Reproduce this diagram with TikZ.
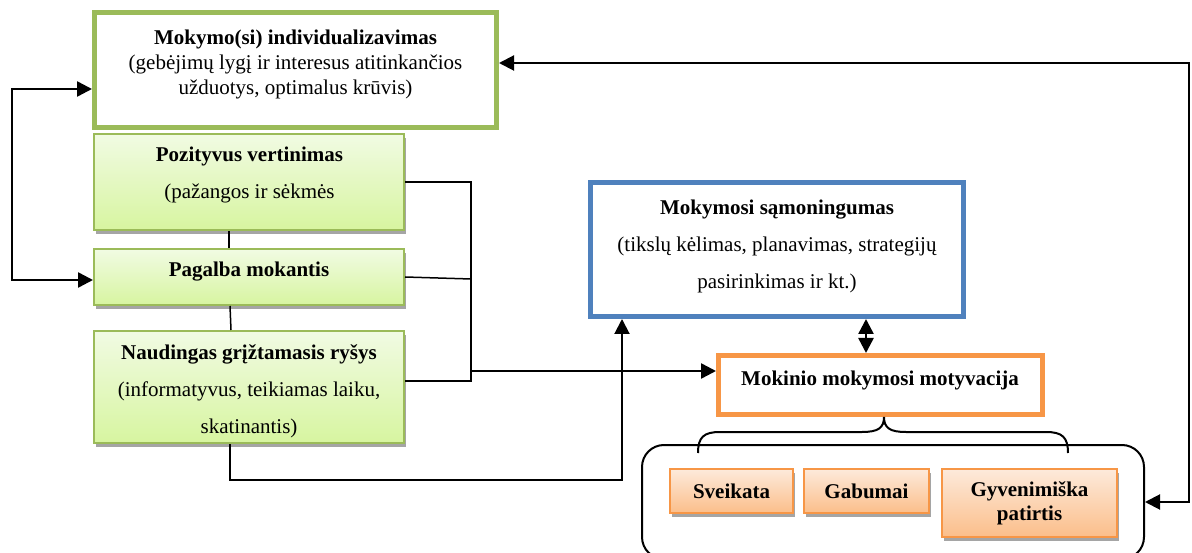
\documentclass[tikz,border=0pt]{standalone}
\usepackage{fontspec}
\setmainfont{Liberation Serif}
\usetikzlibrary{arrows.meta,shadows,calc}
\definecolor{gborder}{HTML}{9BBB59}
\definecolor{bborder}{HTML}{4F81BD}
\definecolor{oborder}{HTML}{F79646}
\definecolor{gtop}{HTML}{F1FBE3}
\definecolor{gbot}{HTML}{D7F5A0}
\definecolor{otop}{HTML}{FDEADB}
\definecolor{obot}{HTML}{FBBE8A}
\definecolor{shadowgray}{HTML}{A5A5A5}
\begin{document}
\begin{tikzpicture}[x=1pt,y=-1pt,
  every node/.style={font=\fontsize{21}{25}\selectfont},
  bigbox/.style={draw, line width=5pt, fill=white, inner sep=0pt},
  gbox/.style={draw=gborder, line width=2pt, top color=gtop, bottom color=gbot, inner sep=0pt,
    drop shadow={shadow xshift=1.5pt, shadow yshift=-4pt, fill=shadowgray, opacity=1}},
  obox/.style={draw=oborder, line width=2pt, top color=otop, bottom color=obot, inner sep=0pt, align=center,
    drop shadow={shadow xshift=1.5pt, shadow yshift=-4pt, fill=shadowgray, opacity=1}},
  txt/.style={align=center, inner sep=0pt},
  wide/.style={font=\fontsize{21}{37}\selectfont},
  ln/.style={line width=1.5pt},
  tip/.style={Triangle[length=15pt,width=15pt]},
  arr/.style={line width=2pt, -{Triangle[length=15pt,width=15pt]}},
  darr/.style={line width=2.5pt, {Triangle[length=15pt,width=15pt]}-{Triangle[length=15pt,width=15pt]}},
]
\useasboundingbox (0,0) rectangle (1192,553);

% top box
\node[bigbox, draw=gborder, minimum width=402pt, minimum height=115pt] (ind) at (295.5,70) {};
\node[txt] (indt) at (295.5,64) {\textbf{Mokymo(si) individualizavimas}\\(gebėjimų lygį ir interesus atitinkančios\\užduotys, optimalus krūvis)};

% green boxes
\node[gbox, minimum width=310pt, minimum height=96pt] (poz) at (249,182) {};
\node[txt, wide] (pozt) at (249.5,175) {\textbf{Pozityvus vertinimas}\\(pažangos ir sėkmės};
\node[gbox, minimum width=310pt, minimum height=56pt] (pag) at (249,277) {};
\node[txt] (pagt) at (249,272) {\textbf{Pagalba mokantis}};
\node[gbox, minimum width=310pt, minimum height=112pt] (nau) at (249,387) {};
\node[txt, wide] (naut) at (249,391) {\textbf{Naudingas grįžtamasis ryšys}\\(informatyvus, teikiamas laiku,\\skatinantis)};

% blue box
\node[bigbox, draw=bborder, minimum width=373pt, minimum height=134pt] (sam) at (777,249.5) {};
\node[txt, wide] (samt) at (777,246) {\textbf{Mokymosi sąmoningumas}\\(tikslų kėlimas, planavimas, strategijų\\pasirinkimas ir kt.)};

% orange box
\node[bigbox, draw=oborder, minimum width=324pt, minimum height=59pt] (mot) at (880.5,385) {};
\node[txt] (mott) at (880,380) {\textbf{Mokinio mokymosi motyvacija}};

% group
\node[draw, line width=2pt, rounded corners=22pt, minimum width=502pt, minimum height=114pt] (grp) at (893,502) {};
\node[obox, minimum width=123pt, minimum height=44pt] (sve) at (731.5,491) {\textbf{Sveikata}};
\node[obox, minimum width=125pt, minimum height=44pt] (gab) at (866.5,491) {\textbf{Gabumai}};
\node[obox, minimum width=175pt, minimum height=68pt, font=\fontsize{21}{24}\selectfont] (gyv) at (1029.5,503) {\textbf{Gyvenimiška}\\\textbf{patirtis}};

% brace
\coordinate (btip) at ([xshift=3.5pt]mot.south);
\draw[line width=2pt] (698,453) .. controls (698,437) and (704,432) .. (720,432) -- (862,432)
  .. controls (878,432) and (884,428) .. (btip)
  .. controls (884,428) and (890,432) .. (906,432) -- (1046,432)
  .. controls (1062,432) and (1068,437) .. (1068,453);

% connectors
\coordinate (jx) at (471,371);
\draw[ln] ([xshift=-20pt]poz.south) -- ([xshift=-20pt]pag.north);
\draw[ln] ([xshift=-19pt]pag.south) -- ([xshift=-18pt]nau.north);
\draw[ln] (poz.east) -| ($(jx)+(0,10)$) -- ([yshift=6pt]nau.east);
\draw[ln] (pag.east) -- (jx |- 0,279);
\draw[arr, line width=2.5pt] (jx) -- ([yshift=14pt]mot.west);
\draw[arr] ([xshift=-19pt]nau.south) -- ++(0,36) -| ([xshift=34pt]sam.south west);
\draw[darr] ([xshift=89pt]sam.south) -- ([xshift=89pt]sam.south |- mot.north);
\draw[darr] ([yshift=-3pt]pag.west) -- ++(-81,0) |- ([yshift=-19pt]ind.west);
\draw[darr, line width=2pt] (grp.east) -- ++(44,0) |- ([yshift=7pt]ind.east);
\end{tikzpicture}
\end{document}
